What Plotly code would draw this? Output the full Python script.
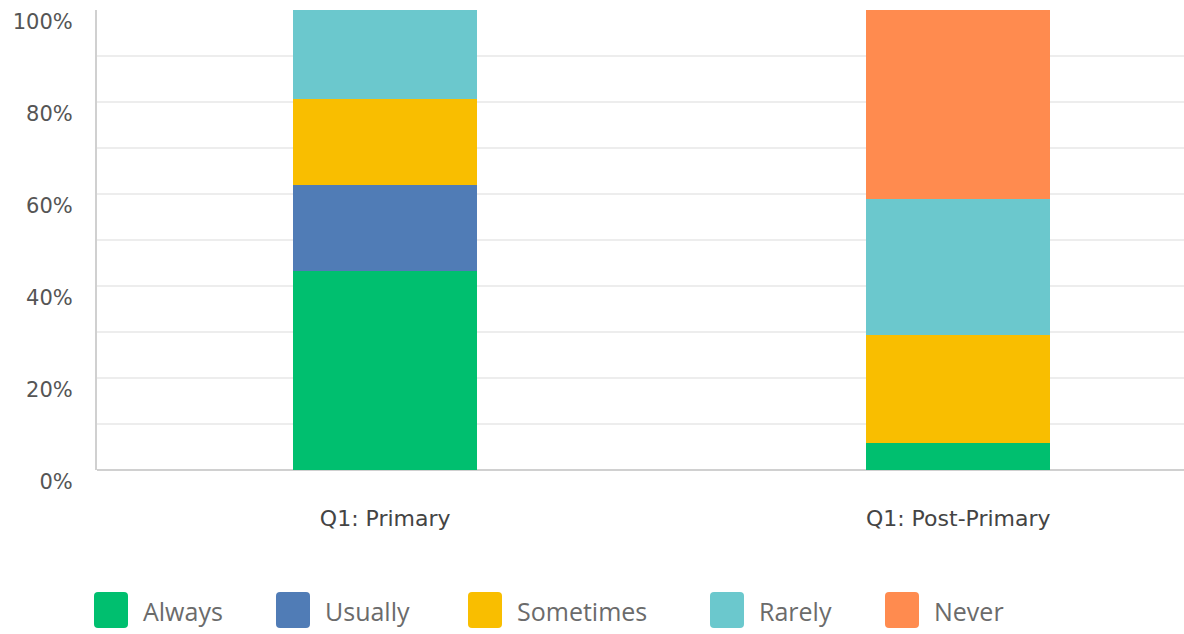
import plotly.graph_objects as go

categories = ["Q1: Primary", "Q1: Post-Primary"]
series_names = ["Always", "Usually", "Sometimes", "Rarely", "Never"]
always = [43.3, 5.88]
usually = [18.7, 0.0]
sometimes = [18.7, 23.53]
rarely = [19.3, 29.41]
never = [0.0, 41.18]
colors = ["#00BF6F", "#507CB6", "#F9BE00", "#6BC8CD", "#FF8B4F"]
y_ticks = [0, 20, 40, 60, 80, 100]
y_tick_labels = ["0%", "20%", "40%", "60%", "80%", "100%"]

series_values = [always, usually, sometimes, rarely, never]

W, H = 1184, 634
L, R, T, B = 97, 0, 10, 164
FONT = "Open Sans, Noto Sans, sans-serif"
WFONT = "DejaVu Sans, Open Sans, sans-serif"

fig = go.Figure()
for name, vals, col in zip(series_names, series_values, colors):
    fig.add_trace(go.Bar(
        x=categories, y=vals, name=name,
        marker=dict(color=col, line=dict(width=0)),
        width=0.321, showlegend=False,
    ))

pw = W - L - R
ph = H - T - B

def px_x(px):
    return (px - L) / pw

def px_y(py):
    return (H - B - py) / ph

shapes = []
annotations = []
legend_x = [94, 276, 468, 710, 885]
sw_w, sw_h = 34, 36
sw_top = 592
for name, col, x0 in zip(series_names, colors, legend_x):
    x1 = x0 + sw_w
    y0, y1 = sw_top, sw_top + sw_h
    r = 4

    def P(x, y):
        return f"{px_x(x):.5f},{px_y(y):.5f}"
    path = (f"M{P(x0 + r, y0)} L{P(x1 - r, y0)} Q{P(x1, y0)} {P(x1, y0 + r)} "
            f"L{P(x1, y1 - r)} Q{P(x1, y1)} {P(x1 - r, y1)} L{P(x0 + r, y1)} "
            f"Q{P(x0, y1)} {P(x0, y1 - r)} L{P(x0, y0 + r)} Q{P(x0, y0)} {P(x0 + r, y0)} Z")
    shapes.append(dict(type="path", xref="paper", yref="paper", path=path,
                       fillcolor=col, line=dict(width=0)))
    annotations.append(dict(x=px_x(x1 + 13), y=px_y(y0 + sw_h / 2 + 1), xref="paper", yref="paper",
                            text=name, showarrow=False, xanchor="left", yanchor="middle",
                            font=dict(family=FONT, size=25, color="#6b6b6b")))

fig.update_layout(
    width=W, height=H, autosize=False,
    margin=dict(l=L, r=R, t=T, b=B, pad=0),
    barmode="stack", bargap=0,
    plot_bgcolor="white", paper_bgcolor="white",
    shapes=shapes, annotations=annotations,
    showlegend=False,
    xaxis=dict(
        type="category", range=[-0.503, 1.394],
        showgrid=False, zeroline=False, showline=False,
        ticks="", ticklabelstandoff=33,
        tickfont=dict(family=WFONT, size=22, color="#444444"),
    ),
    yaxis=dict(
        range=[0, 100], tickvals=y_ticks, ticktext=y_tick_labels,
        showgrid=True, gridcolor="#ededed", gridwidth=1.5,
        minor=dict(dtick=10, showgrid=True, gridcolor="#ededed", gridwidth=1.5, ticks=""),
        zeroline=True, zerolinecolor="#d0d0d0", zerolinewidth=2,
        showline=True, linecolor="#d0d0d0", linewidth=2,
        ticks="", ticklabelstandoff=18, ticklabelshift=12,
        tickfont=dict(family=WFONT, size=21, color="#555555"),
    ),
)

fig.write_html("out.html", config={"displayModeBar": False},
               post_script="document.body.style.margin='0px';")
